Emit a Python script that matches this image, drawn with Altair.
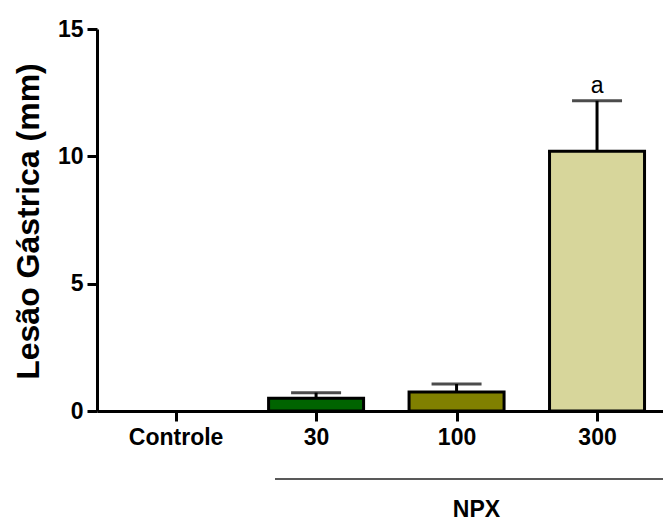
import altair as alt
import pandas as pd

categories = ["Controle", "30", "100", "300"]
positions = [0, 1, 2, 3]
means = [0.0, 0.5, 0.75, 10.2]
sems = [0.0, 0.22, 0.31, 1.98]
colors = ["#ffffff", "#006400", "#808000", "#d7d69b"]
letters = ["", "", "", "a"]
group_label = "NPX"

df = pd.DataFrame({
    "cat": categories,
    "pos": positions,
    "mean": means,
    "upper": [m + s for m, s in zip(means, sems)],
    "color": colors,
    "letter": letters,
})

FONT = "Liberation Sans, Arial, sans-serif"
label_expr = "[" + ",".join("'" + c + "'" for c in categories) + "][datum.value]"

x = alt.X(
    "pos:Q",
    scale=alt.Scale(domain=[-0.524, 3.434], nice=False, zero=False),
    axis=alt.Axis(
        values=positions,
        labelExpr=label_expr,
        title=group_label,
        titleX=379,
        titleY=105,
        titleAnchor="start",
        titleAlign="center",
        titleBaseline="alphabetic",
        titleFontSize=23,
        titleFontWeight="bold",
        titleFont=FONT,
        labelPadding=5,
        labelFlush=False,
    ),
)
y = alt.Y(
    "mean:Q",
    scale=alt.Scale(domain=[0, 15], nice=False),
    axis=alt.Axis(
        values=[0, 5, 10, 15],
        title="Lesão Gástrica (mm)",
        titleFontSize=32,
        titleFontWeight="bold",
        titleFont=FONT,
        titleX=-59,
        titleY=192,
        titleAngle=-90,
        titleAlign="center",
        titleBaseline="alphabetic",
        labelPadding=4,
    ),
)

base = alt.Chart(df)
nonzero = base.transform_filter("datum.mean > 0")

bars = nonzero.mark_bar(size=95, stroke="black", strokeWidth=3).encode(
    x=x,
    y=y,
    fill=alt.Fill("color:N", scale=None),
)

err = nonzero.mark_rule(color="black", strokeWidth=3).encode(
    x="pos:Q",
    y="mean:Q",
    y2="upper:Q",
)

caps = nonzero.mark_tick(color="black", thickness=3, size=50, orient="horizontal").encode(
    x="pos:Q",
    y="upper:Q",
)

txt = base.mark_text(
    font=FONT, fontSize=23, baseline="alphabetic", dy=-8, color="black"
).encode(
    x="pos:Q",
    y="upper:Q",
    text="letter:N",
)

line_df = pd.DataFrame({"label": [group_label]})
npx_line = alt.Chart(line_df).mark_rule(color="#222222", strokeWidth=1.5).encode(
    x=alt.value(178),
    x2=alt.value(566),
    y=alt.value(450),
)

chart = (
    alt.layer(bars, err, caps, txt, npx_line)
    .properties(
        width=566,
        height=382,
        autosize=alt.AutoSizeParams(type="none"),
        padding={"left": 97, "top": 29, "right": 0, "bottom": 109},
    )
    .configure_view(strokeWidth=0)
    .configure_axis(
        grid=False,
        domainColor="black",
        domainWidth=3,
        tickColor="black",
        tickWidth=3,
        tickSize=10,
        labelFont=FONT,
        labelFontSize=23,
        labelFontWeight="bold",
        labelColor="black",
        titleColor="black",
    )
)

chart.save("out.html", embed_options={"renderer": "svg", "actions": False})
